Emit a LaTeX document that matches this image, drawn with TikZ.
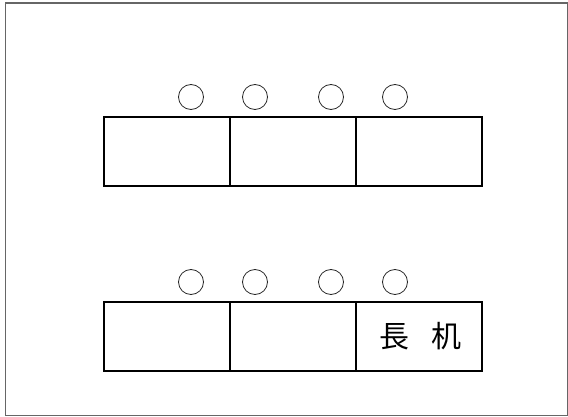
\documentclass[tikz,border=0pt]{standalone}
\usepackage{fontspec}
\newfontfamily\cjk{Noto Sans CJK JP}
\begin{document}
\begin{tikzpicture}[x=1pt,y=-1pt,
  cell/.style={draw,line width=1.6pt,minimum width=126pt,minimum height=69pt,inner sep=0pt,outer sep=0pt,anchor=north west},
  seat/.style={draw,circle,line width=0.8pt,minimum size=25pt,inner sep=0pt,draw=black!85}]
\useasboundingbox (0,0) rectangle (568,417);
\node[draw=black!60,line width=1.2pt,minimum width=562pt,minimum height=412pt,anchor=north west,inner sep=0pt] (frame) at (4.5,2.5) {};
% top row
\node[cell] (t1) at (104,117) {};
\node[cell] (t2) at (230,117) {};
\node[cell] (t3) at (356,117) {};
\foreach \x/\n in {191/a,255/b,331/c,395/d} \node[seat] (ts\n) at (\x,97) {};
% bottom row
\node[cell] (b1) at (104,302) {};
\node[cell] (b2) at (230,302) {};
\node[cell] (b3) at (356,302) {};
\foreach \x/\n in {191/a,255/b,331/c,395/d} \node[seat] (bs\n) at (\x,282) {};
\node[font=\cjk\fontsize{30}{32}\selectfont,inner sep=0pt] (label) at (420.5,336) {長\hspace{0.75em}机};
\end{tikzpicture}
\end{document}
